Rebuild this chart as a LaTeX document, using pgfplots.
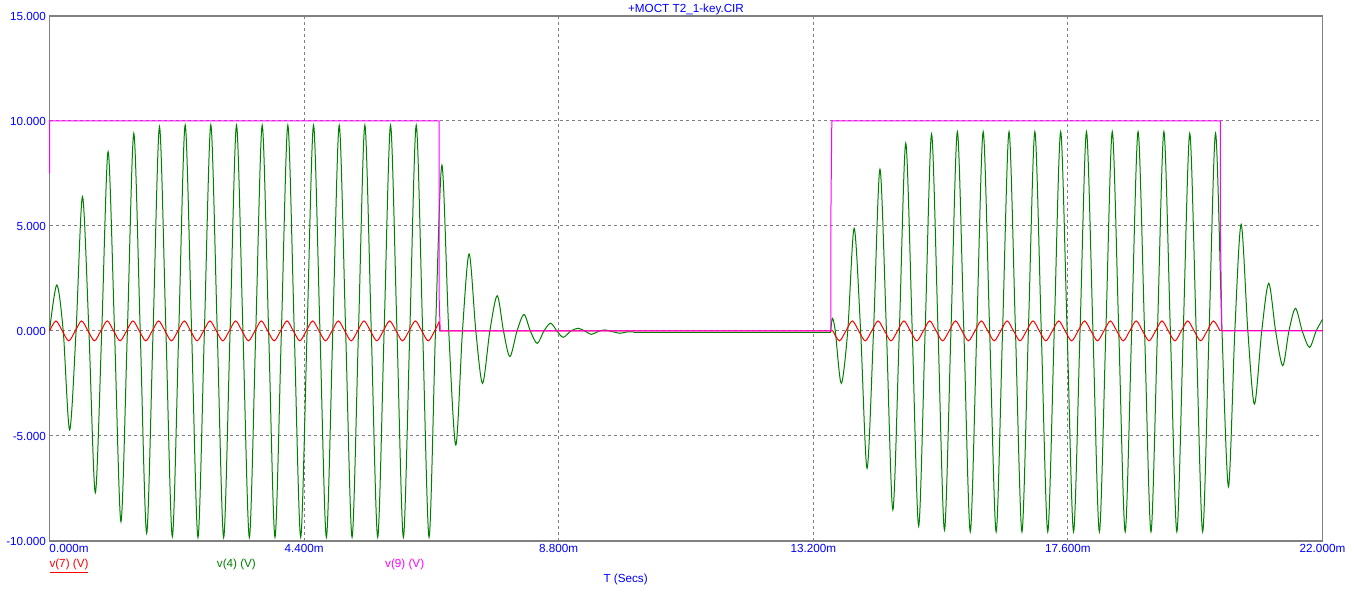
\documentclass[border=0pt]{standalone}
\usepackage{fontspec}
\setmainfont{Liberation Sans}
\usepackage{pgfplots}
\pgfplotsset{compat=1.18}
\definecolor{mcblue}{RGB}{0,0,255}
\definecolor{mcgreen}{RGB}{0,128,0}
\definecolor{mcred}{RGB}{255,0,0}
\definecolor{mcmag}{RGB}{255,0,255}
\definecolor{mcgray}{RGB}{128,128,128}
\newcommand{\mcfont}{\fontsize{11.7}{14}\selectfont}
\begin{document}
\begin{tikzpicture}
\begin{axis}[
  at={(49.5pt,52pt)}, anchor=south west,
  width=1273pt, height=525pt, scale only axis,
  xmin=0, xmax=22, ymin=-10, ymax=15,
  xtick={0,4.4,8.8,13.2,17.6,22},
  xticklabels={\makebox[0pt][l]{0.000m},4.400m,8.800m,13.200m,17.600m,22.000m},
  ytick={-10,-5,0,5,10,15},
  yticklabels={-10.000,-5.000,0.000,5.000,10.000,15.000},
  grid=major,
  major grid style={mcgray, dash pattern=on 3pt off 3pt, line width=1pt},
  axis line style={mcgray, line width=1.2pt},
  major tick length=0pt,
  tick label style={font=\mcfont, text=mcblue},
  clip=false,
]
% v(4) green, first burst
\addplot[mcgreen, line width=1pt, smooth, tension=0.5] coordinates {
(0,0)
(0.126,2.19) (0.237,0)
(0.348,-4.71) (0.459,0)
(0.570,6.40) (0.681,0)
(0.792,-7.70) (0.903,0)
(1.013,8.54) (1.124,0)
(1.235,-9.08) (1.346,0)
(1.457,9.41) (1.568,0)
(1.679,-9.63) (1.790,0)
(1.901,9.73) (2.012,0)
(2.123,-9.79) (2.234,0)
(2.345,9.81) (2.456,0)
(2.566,-9.83) (2.677,0)
(2.788,9.82) (2.899,0)
(3.010,-9.83) (3.121,0)
(3.232,9.80) (3.343,0)
(3.454,-9.83) (3.565,0)
(3.676,9.80) (3.787,0)
(3.897,-9.82) (4.008,0)
(4.119,9.80) (4.230,0)
(4.341,-9.82) (4.452,0)
(4.563,9.80) (4.674,0)
(4.785,-9.82) (4.896,0)
(5.007,9.80) (5.118,0)
(5.229,-9.82) (5.340,0)
(5.450,9.80) (5.561,0)
(5.672,-9.82) (5.783,0)
(5.894,9.80) (6.005,0)
(6.116,-9.82) (6.227,0)
(6.338,9.80) (6.449,0)
(6.560,-9.82) (6.671,0)
(6.782,7.90) (6.900,0)
(7.022,-5.43) (7.137,0)
(7.252,3.67) (7.368,0)
(7.484,-2.49) (7.610,0)
(7.737,1.68) (7.846,0)
(7.956,-1.22) (8.080,0)
(8.199,0.79) (8.310,0)
(8.428,-0.59) (8.545,0)
(8.660,0.37) (8.770,0)
(8.878,-0.30) (9.010,0)
(9.137,0.13) (9.250,0)
(9.369,-0.16) (9.480,-0.02)
(9.599,0.05) (9.730,-0.03)
(9.858,-0.11) (9.990,-0.04)
(10.100,-0.05)
};
\addplot[mcgreen, line width=1pt] coordinates {(10.100,-0.05) (13.500,-0.05)};
% v(4) green, second burst
\addplot[mcgreen, line width=1pt, smooth, tension=0.5] coordinates {
(13.500,-0.05) (13.530,0.60) (13.580,0)
(13.683,-2.49) (13.795,0)
(13.906,4.89) (14.018,0)
(14.129,-6.54) (14.241,0)
(14.352,7.70) (14.464,0)
(14.575,-8.52) (14.687,0)
(14.798,8.94) (14.910,0)
(15.021,-9.29) (15.133,0)
(15.244,9.38) (15.356,0)
(15.467,-9.48) (15.579,0)
(15.690,9.49) (15.802,0)
(15.913,-9.56) (16.025,0)
(16.136,9.49) (16.248,0)
(16.360,-9.56) (16.471,0)
(16.583,9.49) (16.694,0)
(16.806,-9.56) (16.917,0)
(17.029,9.49) (17.140,0)
(17.252,-9.56) (17.364,0)
(17.475,9.49) (17.587,0)
(17.698,-9.56) (17.810,0)
(17.921,9.49) (18.033,0)
(18.144,-9.56) (18.256,0)
(18.367,9.49) (18.479,0)
(18.590,-9.56) (18.702,0)
(18.813,9.49) (18.925,0)
(19.036,-9.56) (19.148,0)
(19.259,9.49) (19.371,0)
(19.483,-9.56) (19.594,0)
(19.706,9.41) (19.817,0)
(19.929,-9.56) (20.040,0)
(20.152,9.41) (20.263,0)
(20.375,-7.41) (20.485,0)
(20.594,5.08) (20.710,0)
(20.824,-3.48) (20.950,0)
(21.071,2.27) (21.190,0)
(21.313,-1.65) (21.420,0)
(21.533,1.08) (21.650,0)
(21.775,-0.78) (21.890,0)
(22.000,0.55)
};
% v(7) red
\addplot[mcred, line width=1pt, smooth, tension=0.5] coordinates {
(0,0) (0.111,0.48) (0.222,0) (0.333,-0.47) (0.444,0) (0.555,0.48) (0.666,0) (0.777,-0.47)
(0.887,0) (0.998,0.48) (1.109,0) (1.220,-0.47) (1.331,0) (1.442,0.48) (1.553,0) (1.664,-0.47)
(1.775,0) (1.886,0.48) (1.997,0) (2.108,-0.47) (2.219,0) (2.330,0.48) (2.440,0) (2.551,-0.47)
(2.662,0) (2.773,0.48) (2.884,0) (2.995,-0.47) (3.106,0) (3.217,0.48) (3.328,0) (3.439,-0.47)
(3.550,0) (3.661,0.48) (3.772,0) (3.883,-0.47) (3.993,0) (4.104,0.48) (4.215,0) (4.326,-0.47)
(4.437,0) (4.548,0.48) (4.659,0) (4.770,-0.47) (4.881,0) (4.992,0.48) (5.103,0) (5.214,-0.47)
(5.325,0) (5.436,0.48) (5.547,0) (5.657,-0.47) (5.768,0) (5.879,0.48) (5.990,0) (6.101,-0.47)
(6.212,0) (6.323,0.48) (6.434,0) (6.545,-0.47) (6.656,0) (6.735,0.45)
};
\addplot[mcred, line width=1pt] coordinates {(6.735,0.45) (6.745,0) (13.540,0)};
\addplot[mcred, line width=1pt, smooth, tension=0.5] coordinates {
(13.540,0) (13.651,-0.47) (13.763,0) (13.874,0.48) (13.986,0) (14.097,-0.47) (14.209,0) (14.320,0.48)
(14.432,0) (14.543,-0.47) (14.655,0) (14.766,0.48) (14.878,0) (14.989,-0.47) (15.101,0) (15.212,0.48)
(15.324,0) (15.435,-0.47) (15.547,0) (15.658,0.48) (15.770,0) (15.881,-0.47) (15.993,0) (16.104,0.48)
(16.216,0) (16.327,-0.47) (16.438,0) (16.550,0.48) (16.661,0) (16.773,-0.47) (16.884,0) (16.996,0.48)
(17.107,0) (17.219,-0.47) (17.330,0) (17.442,0.48) (17.553,0) (17.665,-0.47) (17.776,0) (17.888,0.48)
(17.999,0) (18.111,-0.47) (18.222,0) (18.334,0.48) (18.445,0) (18.557,-0.47) (18.668,0) (18.780,0.48)
(18.891,0) (19.003,-0.47) (19.114,0) (19.226,0.48) (19.337,0) (19.449,-0.47) (19.560,0) (19.671,0.48)
(19.783,0) (19.894,-0.47) (20.006,0) (20.117,0.48) (20.229,0)
};
\addplot[mcred, line width=1pt] coordinates {(20.229,0) (22,0)};
% v(9) magenta
\addplot[mcmag, line width=1pt] coordinates {
(0,7.5) (0.002,10) (6.733,10) (6.735,1.5) (6.752,0) (13.503,0) (13.503,5.2) (13.520,10)
(20.233,10) (20.235,5.0) (20.260,0) (22,0)
};
\end{axis}
\node[anchor=base, inner sep=0pt, text=mcblue, font=\mcfont] at (686pt,580.3pt) {+MOCT T2\_1-key.CIR};
\node[anchor=base west, inner sep=0pt, text=mcred, font=\mcfont] at (49.3pt,25pt) {\underline{v(7) (V)}};
\node[anchor=base west, inner sep=0pt, text=mcgreen, font=\mcfont] at (216.7pt,25pt) {v(4) (V)};
\node[anchor=base west, inner sep=0pt, text=mcmag, font=\mcfont] at (385pt,25pt) {v(9) (V)};
\node[anchor=base west, inner sep=0pt, text=mcblue, font=\mcfont] at (603.3pt,10pt) {T (Secs)};
\pgfresetboundingbox
\useasboundingbox (0,0) rectangle (1354pt,593pt);
\end{tikzpicture}
\end{document}
